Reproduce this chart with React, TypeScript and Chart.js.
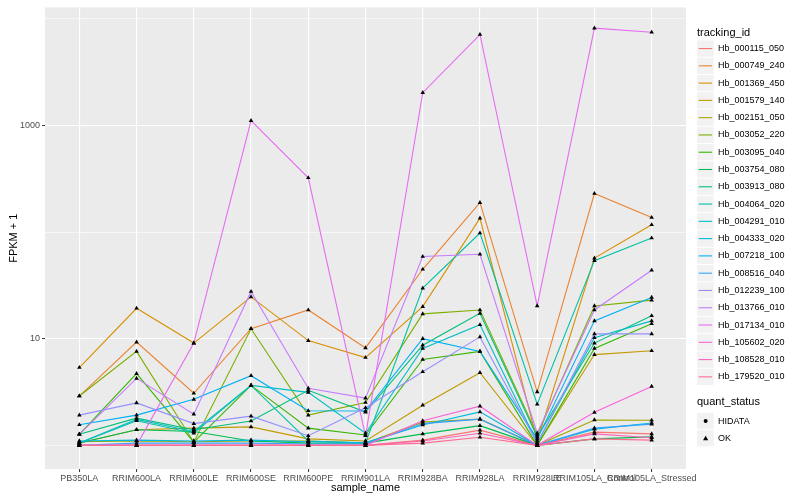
import React, { useEffect, useRef } from "react";
import { Chart, registerables } from "chart.js";
Chart.register(...registerables);

const sampleNames = [
  "PB350LA", "RRIM600LA", "RRIM600LE", "RRIM600SE", "RRIM600PE", "RRIM901LA",
  "RRIM928BA", "RRIM928LA", "RRIM928LE", "RRIM105LA_Control", "RRIM105LA_Stressed",
];

const trackingIds = [
  "Hb_000115_050", "Hb_000749_240", "Hb_001369_450", "Hb_001579_140", "Hb_002151_050",
  "Hb_003052_220", "Hb_003095_040", "Hb_003754_080", "Hb_003913_080", "Hb_004064_020",
  "Hb_004291_010", "Hb_004333_020", "Hb_007218_100", "Hb_008516_040", "Hb_012239_100",
  "Hb_013766_010", "Hb_017134_010", "Hb_105602_020", "Hb_108528_010", "Hb_179520_010",
];

const seriesColors = [
  "#F8766D", "#EA8331", "#D89000", "#C09B00", "#A3A500", "#7CAE00", "#39B600", "#00BB4E",
  "#00BF7D", "#00C1A3", "#00BFC4", "#00BAE0", "#00B0F6", "#35A2FF", "#9590FF", "#C77CFF",
  "#E76BF3", "#FA62DB", "#FF62BC", "#FF6C91",
];

// FPKM + 1 values, one per sample
const hb000115_050 = [1.0, 1.0, 1.0, 1.0, 1.0, 1.0, 1.12, 1.39, 1.0, 1.33, 1.28];
const hb000749_240 = [2.9, 9.3, 3.08, 12.4, 18.6, 8.2, 44.8, 189, 3.17, 230, 137];
const hb001369_450 = [5.37, 19.3, 9.1, 24.7, 9.6, 6.66, 20, 135, 1.1, 57, 117];
const hb001579_140 = [1.05, 1.4, 1.45, 1.49, 1.15, 1.1, 2.38, 4.8, 1.0, 7.1, 7.7];
const hb002151_050 = [1.08, 1.1, 1.08, 1.1, 1.1, 1.05, 1.65, 1.76, 1.0, 1.73, 1.72];
const hb003052_220 = [2.9, 7.6, 1.07, 12.4, 1.92, 2.52, 17.1, 18.6, 1.25, 20.3, 23];
const hb003095_040 = [1.27, 4.7, 1.07, 3.65, 1.45, 1.25, 6.38, 7.6, 1.0, 8.1, 13.8];
const hb003754_080 = [1.05, 1.4, 1.35, 1.1, 1.05, 1.05, 1.28, 1.53, 1.0, 1.15, 1.2];
const hb003913_080 = [1.27, 1.8, 1.4, 1.69, 3.28, 2.05, 8.7, 17.3, 1.2, 9.1, 16.4];
const hb004064_020 = [1.05, 1.7, 1.3, 3.65, 1.1, 1.05, 29.8, 98, 2.43, 54, 88];
const hb004291_010 = [1.05, 1.75, 1.35, 3.65, 3.14, 1.3, 8.1, 13.5, 1.05, 10.2, 14.7];
const hb004333_020 = [1.1, 1.12, 1.1, 1.12, 1.08, 1.06, 1.55, 2.06, 1.0, 1.42, 1.62];
const hb007218_100 = [1.56, 1.92, 2.7, 4.5, 2.11, 2.1, 10, 7.6, 1.15, 14.7, 24.4];
const hb008516_040 = [1.0, 1.05, 1.05, 1.05, 1.03, 1.03, 1.6, 1.76, 1.0, 1.45, 1.58];
const hb012239_100 = [1.92, 2.5, 1.6, 1.88, 1.23, 2.25, 4.9, 10.4, 1.05, 11.1, 11.1];
const hb013766_010 = [1.27, 4.25, 1.96, 27.7, 3.43, 2.77, 59, 62, 1.3, 18.6, 43.8];
const hb017134_010 = [1.0, 1.0, 9.1, 1110, 323, 1.23, 2030, 7130, 20.3, 8170, 7480];
const hb105602_020 = [1.0, 1.0, 1.0, 1.0, 1.0, 1.0, 1.7, 2.33, 1.0, 2.04, 3.57];
const hb108528_010 = [1.0, 1.0, 1.0, 1.0, 1.0, 1.0, 1.1, 1.3, 1.0, 1.28, 1.18];
const hb179520_010 = [1.0, 1.0, 1.0, 1.0, 1.0, 1.0, 1.05, 1.19, 1.0, 1.15, 1.12];

const seriesValues = [
  hb000115_050, hb000749_240, hb001369_450, hb001579_140, hb002151_050,
  hb003052_220, hb003095_040, hb003754_080, hb003913_080, hb004064_020,
  hb004291_010, hb004333_020, hb007218_100, hb008516_040, hb012239_100,
  hb013766_010, hb017134_010, hb105602_020, hb108528_010, hb179520_010,
];

const yMajorTicks = [10, 1000];
const yGridValues = [1, 10, 100, 1000, 10000];
const quantStatus = ["HIDATA", "OK"];

const FONT = "'Liberation Sans', Arial, sans-serif";

function drawTriangle(ctx: CanvasRenderingContext2D, x: number, y: number, r: number) {
  const size = r * 1.5;
  ctx.beginPath();
  ctx.moveTo(x, y - size * 0.67);
  ctx.lineTo(x + size * 0.58, y + size * 0.33);
  ctx.lineTo(x - size * 0.58, y + size * 0.33);
  ctx.closePath();
  ctx.fill();
}

const panelBgPlugin = {
  id: "panelBg",
  beforeDraw(chart: any) {
    const { ctx, chartArea } = chart;
    ctx.save();
    ctx.fillStyle = "#EBEBEB";
    ctx.fillRect(chartArea.left, chartArea.top, chartArea.right - chartArea.left, chartArea.bottom - chartArea.top);
    ctx.restore();
  },
};

const ggLegendPlugin = {
  id: "ggLegend",
  afterDraw(chart: any) {
    const ctx: CanvasRenderingContext2D = chart.ctx;
    const x0 = 697;
    const keyH = 17.28;
    ctx.save();
    ctx.textBaseline = "middle";
    ctx.textAlign = "left";
    ctx.fillStyle = "#000";
    ctx.font = `11px ${FONT}`;
    ctx.fillText("tracking_id", x0, 33);
    ctx.font = `9px ${FONT}`;
    trackingIds.forEach((id, i) => {
      const top = 39.9 + i * keyH;
      const cy = top + keyH / 2;
      ctx.fillStyle = "#F2F2F2";
      ctx.fillRect(x0, top + 0.5, keyH - 0.5, keyH - 1);
      ctx.strokeStyle = seriesColors[i];
      ctx.lineWidth = 1.1;
      ctx.beginPath();
      ctx.moveTo(x0 + 1.7, cy);
      ctx.lineTo(x0 + keyH - 2.2, cy);
      ctx.stroke();
      ctx.fillStyle = "#000";
      ctx.fillText(id, x0 + 21, cy);
    });
    ctx.font = `11px ${FONT}`;
    ctx.fillText("quant_status", x0, 402);
    ctx.font = `9px ${FONT}`;
    quantStatus.forEach((s, i) => {
      const top = 412.4 + i * keyH;
      const cy = top + keyH / 2;
      ctx.fillStyle = "#F2F2F2";
      ctx.fillRect(x0, top + 0.5, keyH - 0.5, keyH - 1);
      ctx.fillStyle = "#000";
      const cx = x0 + keyH / 2;
      if (i === 0) {
        ctx.beginPath();
        ctx.arc(cx, cy, 2, 0, Math.PI * 2);
        ctx.fill();
      } else {
        drawTriangle(ctx, cx, cy + 0.5, 3);
      }
      ctx.fillText(s, x0 + 21, cy);
    });
    ctx.restore();
  },
};

export default function App() {
  const ref = useRef<HTMLCanvasElement>(null);
  useEffect(() => {
    document.body.style.margin = "0";
    const canvas = ref.current;
    if (!canvas) return;
    const n = seriesValues.length;
    const lineDatasets: any[] = seriesValues.map((vals, i) => ({
      label: trackingIds[i],
      data: vals.map((v, j) => ({ x: j, y: v })),
      borderColor: seriesColors[i],
      backgroundColor: seriesColors[i],
      borderWidth: 1.1,
      pointRadius: 0,
      tension: 0,
      fill: false,
      order: n - i,
    }));
    const pointDataset: any = {
      label: "points",
      data: seriesValues.flatMap((vals) => vals.map((v, j) => ({ x: j, y: v }))),
      pointStyle: "triangle",
      pointRadius: 2.6,
      backgroundColor: "#000",
      borderColor: "#000",
      borderWidth: 0,
      showLine: false,
      order: -1,
    };
    const chart = new Chart(canvas, {
      type: "line",
      data: { datasets: [...lineDatasets, pointDataset] },
      plugins: [panelBgPlugin, ggLegendPlugin],
      options: {
        animation: false,
        responsive: false,
        events: [],
        layout: { padding: { left: 0, right: 114, top: 5, bottom: 0 } },
        plugins: { legend: { display: false }, tooltip: { enabled: false } },
        scales: {
          x: {
            type: "linear",
            min: -0.6,
            max: 10.6,
            afterBuildTicks: (scale: any) => {
              scale.ticks = sampleNames.map((_, i) => ({ value: i }));
            },
            afterFit: (scale: any) => {
              scale.height = 31;
            },
            ticks: {
              autoSkip: false,
              maxRotation: 0,
              minRotation: 0,
              padding: 1,
              color: "#4D4D4D",
              font: { family: FONT, size: 9 },
              callback: (v: any) => sampleNames[v as number] ?? "",
            },
            grid: {
              color: "#FFFFFF",
              lineWidth: 1.1,
              tickColor: "#333333",
              tickLength: 3,
              tickWidth: 1,
            },
            border: { display: false },
            title: {
              display: true,
              text: "sample_name",
              color: "#000",
              font: { family: FONT, size: 11 },
              padding: { top: 0, bottom: 5.4 },
            },
          },
          y: {
            type: "logarithmic",
            min: 0.62,
            max: 12800,
            afterBuildTicks: (scale: any) => {
              scale.ticks = yGridValues.map((v) => ({ value: v, major: yMajorTicks.includes(v) }));
            },
            afterFit: (scale: any) => {
              scale.width = 45;
            },
            ticks: {
              padding: 2,
              color: "#4D4D4D",
              font: { family: FONT, size: 9 },
              callback: (v: any) => (yMajorTicks.includes(v as number) ? String(v) : ""),
            },
            grid: {
              color: "#FFFFFF",
              lineWidth: (c: any) => (c.tick && yMajorTicks.includes(c.tick.value) ? 1.1 : 0.55),
              tickColor: (c: any) =>
                c.tick && yMajorTicks.includes(c.tick.value) ? "#333333" : "rgba(0,0,0,0)",
              tickLength: 3,
              tickWidth: 1,
            },
            border: { display: false },
            title: {
              display: true,
              text: "FPKM + 1",
              color: "#000",
              font: { family: FONT, size: 11 },
              padding: { top: 7.4, bottom: 0 },
            },
          },
        },
      } as any,
    });
    return () => chart.destroy();
  }, []);
  return (
    <div style={{ width: 800, height: 500 }}>
      <canvas ref={ref} width={800} height={500} style={{ display: "block" }} />
    </div>
  );
}
